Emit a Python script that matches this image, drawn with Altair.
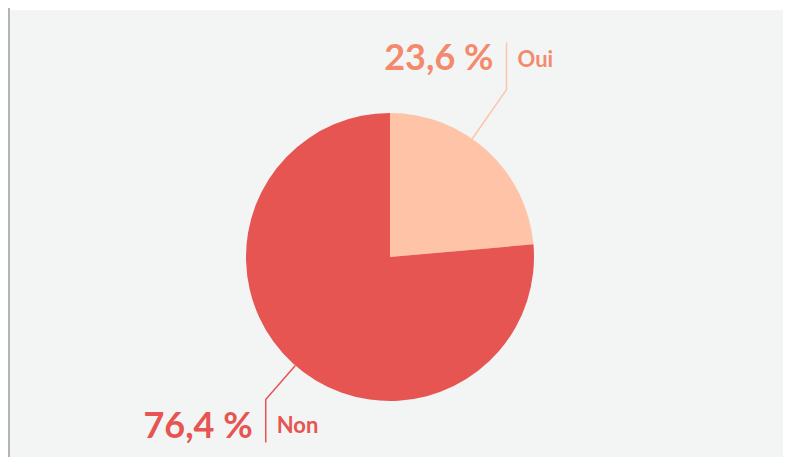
import math
import altair as alt
import pandas as pd

# ---- data ----
labels = ["Oui", "Non"]
values = [23.6, 76.4]
pct_text = ["23,6 %", "76,4 %"]
slice_colors = ["#ffc4a7", "#e65552"]
text_colors = ["#f38a6d", "#e65552"]

# ---- layout (chart pixel coordinates) ----
W, H = 775, 449
CX, CY, R = 382, 249, 144
anchor_frac = [0.41, 0.495]     # where on each slice the leader starts
elbow_r = [204, 189]            # radius of the leader elbow
seg_len = [47, 43]              # vertical leader segment length
seg_dir = [-1, 1]               # up / down
pct_dy = [27, -4]
name_dy = [24, -9]
FONT = "Lato"

total = sum(values)
pie_df = pd.DataFrame({"label": labels, "value": values, "idx": range(len(labels))})

line_rows, text_rows = [], []
cum = 0.0
for i, (lab, v) in enumerate(zip(labels, values)):
    start = cum / total * 360
    span = v / total * 360
    cum += v
    a = math.radians(start + anchor_frac[i] * span)
    px, py = CX + R * math.sin(a), CY - R * math.cos(a)
    ex, ey = CX + elbow_r[i] * math.sin(a), CY - elbow_r[i] * math.cos(a)
    tx, ty = ex, ey + seg_dir[i] * seg_len[i]
    for k, (x, y) in enumerate([(px, py), (ex, ey), (tx, ty)]):
        line_rows.append({"label": lab, "x": x, "y": y, "k": k})
    text_rows.append({"label": lab, "pct": pct_text[i],
                      "px": tx - 13, "py": ty + pct_dy[i],
                      "nx": tx + 11, "ny": ty + name_dy[i]})

line_df = pd.DataFrame(line_rows)
text_df = pd.DataFrame(text_rows)

xs = alt.Scale(domain=[0, W], range=[0, W])
ys = alt.Scale(domain=[0, H], range=[0, H])
color = alt.Color("label:N", scale=alt.Scale(domain=labels, range=slice_colors), legend=None)
tcolor = alt.Color("label:N", scale=alt.Scale(domain=labels, range=text_colors), legend=None)

top_band = alt.Chart(pd.DataFrame({"a": [0]})).mark_rect(color="#ffffff").encode(
    x=alt.value(0), x2=alt.value(W), y=alt.value(0), y2=alt.value(2))
border = alt.Chart(pd.DataFrame({"a": [0]})).mark_rect(color="#b3b4b8").encode(
    x=alt.value(0), x2=alt.value(2), y=alt.value(0), y2=alt.value(H))

pie = alt.Chart(pie_df).mark_arc(radius=R).encode(
    theta=alt.Theta("value:Q", stack=True),
    color=color,
    order=alt.Order("idx:O"),
    x=alt.value(CX), y=alt.value(CY),
)

leaders = alt.Chart(line_df).mark_line(strokeWidth=1.5).encode(
    x=alt.X("x:Q", scale=xs, axis=None),
    y=alt.Y("y:Q", scale=ys, axis=None),
    color=color,
    detail="label:N",
    order="k:Q",
)

pct = alt.Chart(text_df).mark_text(font=FONT, fontSize=36, fontWeight="bold",
                                   align="right", baseline="alphabetic").encode(
    x=alt.X("px:Q", scale=xs, axis=None),
    y=alt.Y("py:Q", scale=ys, axis=None),
    text="pct:N",
    color=tcolor,
)

names = alt.Chart(text_df).mark_text(font=FONT, fontSize=22, fontWeight="bold",
                                     align="left", baseline="alphabetic").encode(
    x=alt.X("nx:Q", scale=xs, axis=None),
    y=alt.Y("ny:Q", scale=ys, axis=None),
    text="label:N",
    color=tcolor,
)

chart = alt.layer(top_band, border, pie, leaders, pct, names).resolve_scale(
    color="independent"
).properties(
    width=W, height=H, padding=0,
    autosize=alt.AutoSizeParams(type="fit", contains="padding"),
    background="#f3f4f4",
).configure_view(stroke=None)

chart.save("out.html", embed_options={"renderer": "svg", "actions": False})
